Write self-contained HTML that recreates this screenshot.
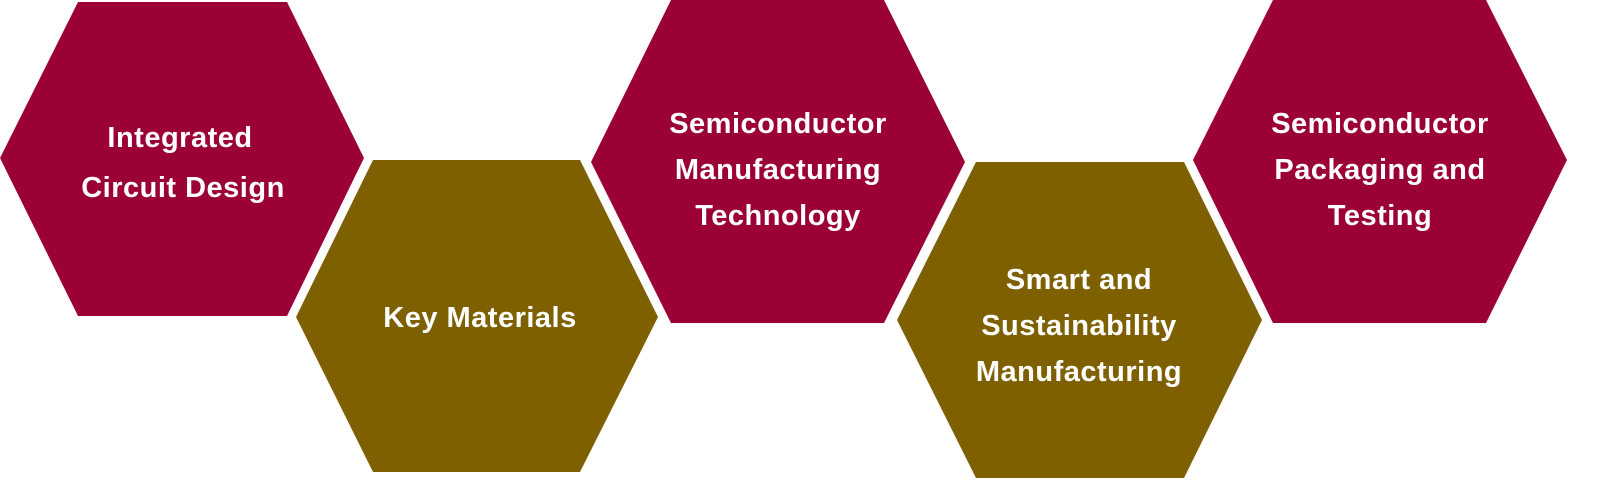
<!DOCTYPE html>
<html><head><meta charset="utf-8"><style>
html,body{margin:0;padding:0;background:#fff;width:1600px;height:488px;overflow:hidden}
svg text{font-family:"Liberation Sans",sans-serif;font-weight:bold;font-size:29px;letter-spacing:0.5px;fill:#fff;text-anchor:middle;dominant-baseline:central}
</style></head><body>
<svg width="1600" height="488" viewBox="0 0 1600 488" xmlns="http://www.w3.org/2000/svg">
<polygon points="78,2 287,2 364,158 287,316 78,316 0,158" fill="#9B0037"/>
<polygon points="373,160 580,160 658,317 580,472 373,472 296,317" fill="#7F6000"/>
<polygon points="671,0 884,0 965,162 884,323 671,323 591,162" fill="#9B0037"/>
<polygon points="976,162 1184,162 1262,320 1184,478 976,478 897,320" fill="#7F6000"/>
<polygon points="1273,0 1486,0 1567,160 1486,323 1273,323 1193,160" fill="#9B0037"/>
<text x="180" y="138">Integrated</text>
<text x="183" y="188">Circuit Design</text>
<text x="480" y="318">Key Materials</text>
<text x="778" y="124">Semiconductor</text>
<text x="778" y="170">Manufacturing</text>
<text x="778" y="216">Technology</text>
<text x="1079" y="280">Smart and</text>
<text x="1079" y="326">Sustainability</text>
<text x="1079" y="372">Manufacturing</text>
<text x="1380" y="124">Semiconductor</text>
<text x="1380" y="170">Packaging and</text>
<text x="1380" y="216">Testing</text>
</svg>
</body></html>
